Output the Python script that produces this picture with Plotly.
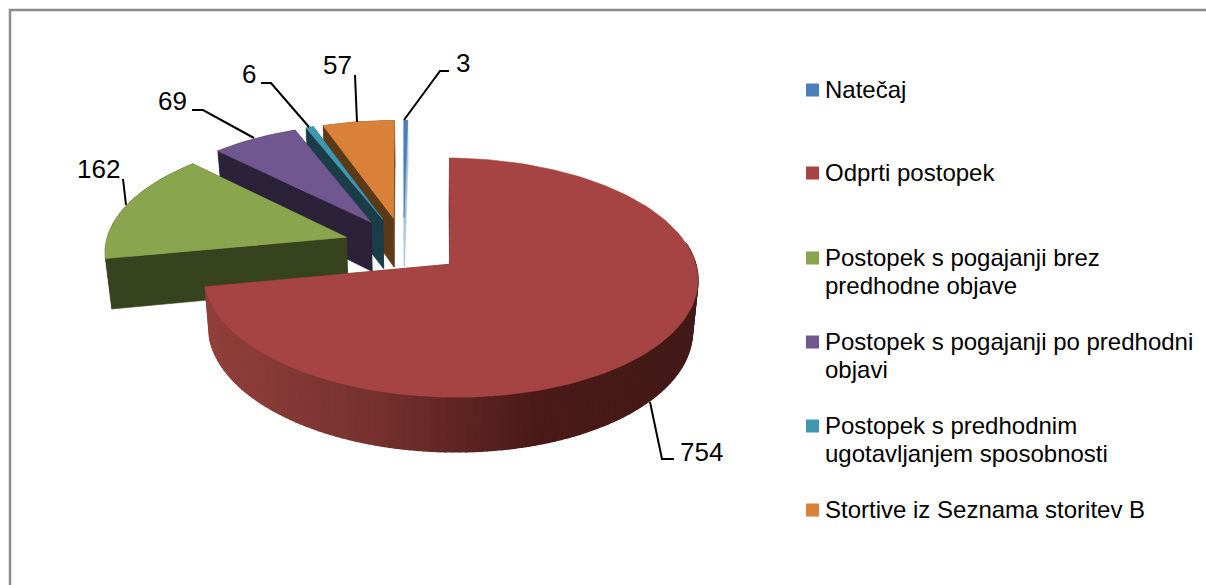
import numpy as np
import plotly.graph_objects as go

categories = ["Natečaj", "Odprti postopek", "Postopek s pogajanji brez predhodne objave",
              "Postopek s pogajanji po predhodni objavi",
              "Postopek s predhodnim ugotavljanjem sposobnosti", "Stortive iz Seznama storitev B"]
values = [3, 754, 162, 69, 6, 57]
top_colors = ["#4A7EBB", "#A54442", "#89A54E", "#71578F", "#3F97B0", "#D98039"]
wall_colors = ["#A9C3E0", "#6A2A28", "#37431E", "#2B2139", "#1A3D47", "#5C3A18"]
legend_lines = [["Natečaj"], ["Odprti postopek"], ["Postopek s pogajanji brez", "predhodne objave"],
                ["Postopek s pogajanji po predhodni", "objavi"],
                ["Postopek s predhodnim", "ugotavljanjem sposobnosti"], ["Stortive iz Seznama storitev B"]]
legend_y = [90, 173, 258, 342, 426, 510]
label_pos = [(463, 63), (701, 452), (98, 169), (172, 101), (249, 74), (337, 65)]
leaders = [[(449, 71), (440, 71), (404, 120)], [(674, 459), (662, 459), (650, 402)],
           [(123, 179), (126, 205)], [(192, 110), (203, 110), (254, 138)],
           [(261, 83), (271, 83), (309, 127)], [(355, 75), (357, 122)]]

CX, CY, A, B, K, EXPL, ROT = 403.5, 245.5, 241, 114, 0.11, 0.25, 1.0


def proj(X, Y):
    s = 1 / (1 - K * Y)
    return CX + A * X * s, CY + B * Y * s


def drop(x, y, Y):
    h = 50 + 4 * np.clip(Y, -1, 1.2)
    return x + (CX + 20 - x) * 0.02, y + h


def poly(fig, xs, ys, color, name, lw=0.6):
    fig.add_trace(go.Scatter(x=list(xs), y=list(ys), mode="lines", fill="toself", fillcolor=color,
                             line=dict(color=color, width=lw), name=name, hoverinfo="name",
                             showlegend=False))


def mix(t):
    stops = [(0, (146, 64, 60)), (0.35, (118, 50, 47)), (0.68, (75, 26, 24)), (1, (66, 27, 23))]
    for (a, c1), (b, c2) in zip(stops, stops[1:]):
        if t <= b:
            f = (t - a) / (b - a)
            return "rgb(%d,%d,%d)" % tuple(c1[i] + (c2[i] - c1[i]) * f for i in range(3))
    return "rgb(66,27,23)"


fig = go.Figure()
total = sum(values)
angles = np.cumsum([0] + [v / total * 360 for v in values]) - values[0] / total * 360 + ROT
slices = []
for i, v in enumerate(values):
    slices.append((i, np.radians(angles[i]), np.radians(angles[i + 1])))

for i, a0, a1 in [slices[k] for k in (0, 5, 4, 3, 2, 1)]:
    mid = (a0 + a1) / 2
    ox, oy = EXPL * np.sin(mid), -EXPL * np.cos(mid)
    th = np.linspace(a0, a1, max(3, int(np.degrees(a1 - a0) / 1.5)))
    X, Y = ox + np.sin(th), oy - np.cos(th)
    px, py = proj(X, Y)
    ax, ay = proj(ox, oy)
    bx, by = drop(px, py, Y)
    abx, aby = drop(ax, ay, oy)
    name = categories[i]
    poly(fig, [ax, px[0], bx[0], abx, ax], [ay, py[0], by[0], aby, ay], wall_colors[i], name)
    poly(fig, [ax, px[-1], bx[-1], abx, ax], [ay, py[-1], by[-1], aby, ay], wall_colors[i], name)
    if i == 1:
        for j in np.arange(0, len(th) - 1):
            if Y[j] < 0 and Y[j + 1] < 0:
                continue
            col = mix((px[j] - 205) / (697 - 205))
            poly(fig, [px[j], px[j + 1], bx[j + 1], bx[j], px[j]],
                 [py[j], py[j + 1], by[j + 1], by[j], py[j]], col, name, lw=1.4)
    else:
        poly(fig, list(px) + list(bx[::-1]), list(py) + list(by[::-1]), wall_colors[i], name)
    poly(fig, [ax] + list(px) + [ax], [ay] + list(py) + [ay], top_colors[i], name)

for i, pts in enumerate(leaders):
    fig.add_trace(go.Scatter(x=[p[0] for p in pts], y=[p[1] for p in pts], mode="lines",
                             line=dict(color="#000000", width=2), hoverinfo="skip", showlegend=False))
annotations = []
for v, (x, y) in zip(values, label_pos):
    annotations.append(dict(x=x, y=y, text=str(v), showarrow=False, xanchor="center", yanchor="middle",
                            font=dict(family="Liberation Sans", size=26, color="#000000")))

fig.add_trace(go.Scatter(x=[812.5] * len(legend_y), y=legend_y, mode="markers", hoverinfo="skip",
                         marker=dict(symbol="square", size=13, color=top_colors), showlegend=False))
for lines, y in zip(legend_lines, legend_y):
    for n, line in enumerate(lines):
        annotations.append(dict(x=823, y=y - 1 + 28.5 * n, text=line, showarrow=False, xanchor="left",
                                yanchor="middle", font=dict(family="Liberation Sans", size=24, color="#000000")))

fig.update_layout(
    width=1206, height=585, margin=dict(l=0, r=0, t=0, b=0), paper_bgcolor="white", plot_bgcolor="white",
    showlegend=False, annotations=annotations,
    xaxis=dict(range=[0, 1206], visible=False, fixedrange=True),
    yaxis=dict(range=[585, 0], visible=False, fixedrange=True),
    shapes=[dict(type="line", x0=10, x1=10, y0=9, y1=585, line=dict(color="#8C8C8C", width=2.5)),
            dict(type="line", x0=9, x1=1206, y0=10, y1=10, line=dict(color="#8C8C8C", width=2.5))],
)
fig.write_html("out.html", config={"displayModeBar": False},
               post_script="document.body.style.margin='0';document.documentElement.style.overflow='hidden';")
